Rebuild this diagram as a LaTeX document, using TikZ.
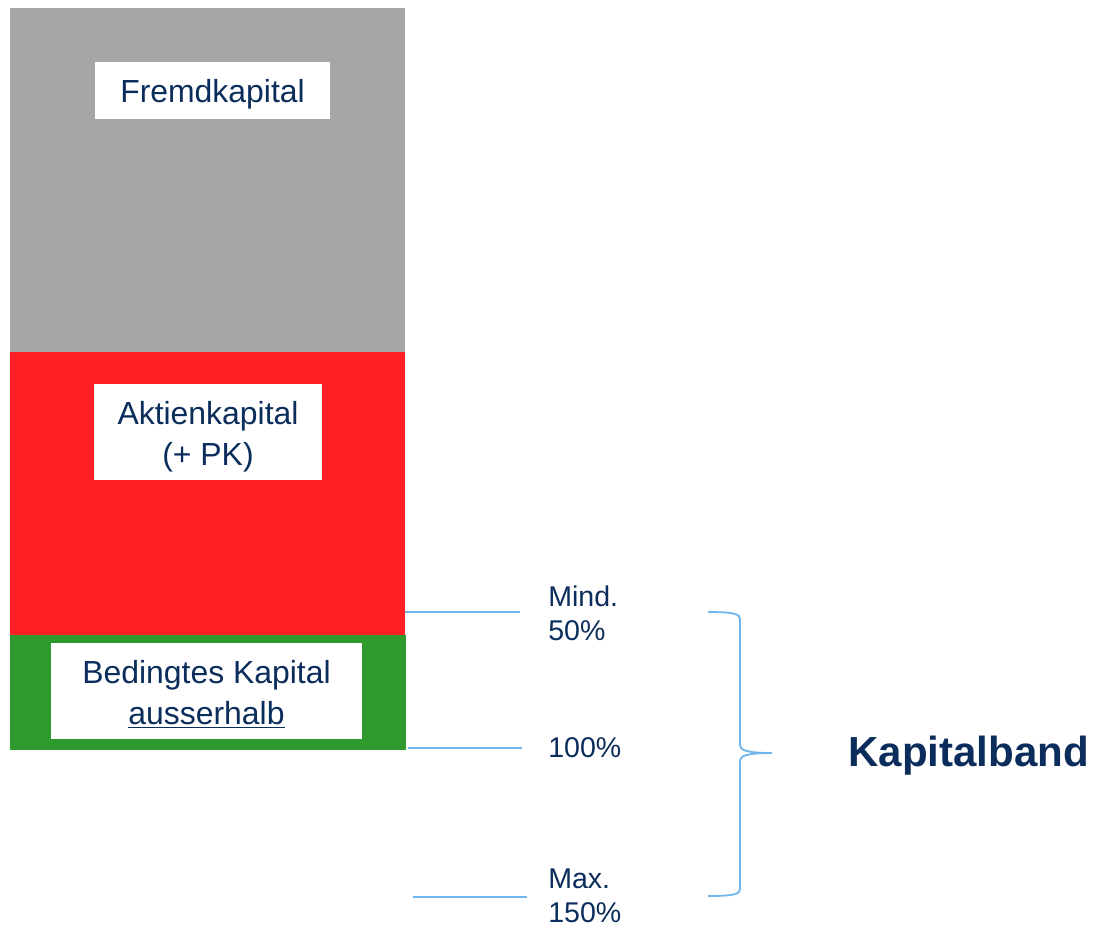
\documentclass[tikz,border=0pt]{standalone}
\usepackage{fontspec}
\setmainfont{Liberation Sans}
\usepackage{xcolor}
\usepackage{tikz}

\definecolor{navy}{HTML}{0B2D5B}
\definecolor{fkgray}{HTML}{A6A6A6}
\definecolor{akred}{HTML}{FF2026}
\definecolor{bkgreen}{HTML}{2E9A2D}
\definecolor{bandblue}{HTML}{6FB6EC}

\begin{document}
\begin{tikzpicture}[x=0.025cm,y=-0.025cm,
  box/.style={inner sep=0pt,align=center,text=navy,font=\fontsize{22.7}{29.2}\selectfont},
  lbl/.style={anchor=west,inner sep=0pt,align=left,text=navy,font=\fontsize{20.3}{24.2}\selectfont},
  band/.style={draw=bandblue,line width=1.3pt}]

\useasboundingbox (0,0) rectangle (1095,930);

% bars
\fill[fkgray] (10,8) rectangle (405,352);
\fill[akred] (10,352) rectangle (405,635);
\fill[bkgreen] (10,635) rectangle (406,750);

% white label boxes
\fill[white] (95,62) rectangle (330,119);
\fill[white] (94,384) rectangle (322,480);
\fill[white] (51,643) rectangle (362,739);

\node[box] (fremd) at (212.5,94.5) {Fremdkapital};
\node[box] (aktien) at (208,437) {Aktienkapital\\(+ PK)};
\node[box] (bedingt) at (206.5,694) {Bedingtes Kapital\\\underline{ausserhalb}};

% labels
\node[lbl] (mind) at (548,613) {Mind.\\50\%};
\node[lbl] (hundert) at (548,748) {100\%};
\node[lbl] (max) at (548,896) {Max.\\150\%};

\coordinate (l1) at (405,612);
\coordinate (l2) at (408,748);
\coordinate (l3) at (413,897);
\draw[band,shorten >=0.7cm] (l1) -- (l1 -| mind.west);
\draw[band,shorten >=0.65cm] (l2) -- (l2 -| hundert.west);
\draw[band,shorten >=0.52cm] (l3) -- (l3 -| max.west);

% brace
\node[anchor=west,inner sep=0pt,text=navy,font=\fontsize{29.9}{36}\selectfont\bfseries] (kband) at (848,756) {Kapitalband};
\coordinate (tip) at (772,753);
\draw[band] (708,612) .. controls (734,612) and (740,614) .. (740,619) -- (740,745)
  .. controls (740,750) and (746,753) .. (tip)
  .. controls (746,753) and (740,756) .. (740,761) -- (740,889)
  .. controls (740,894) and (734,896) .. (708,896);

\end{tikzpicture}
\end{document}
